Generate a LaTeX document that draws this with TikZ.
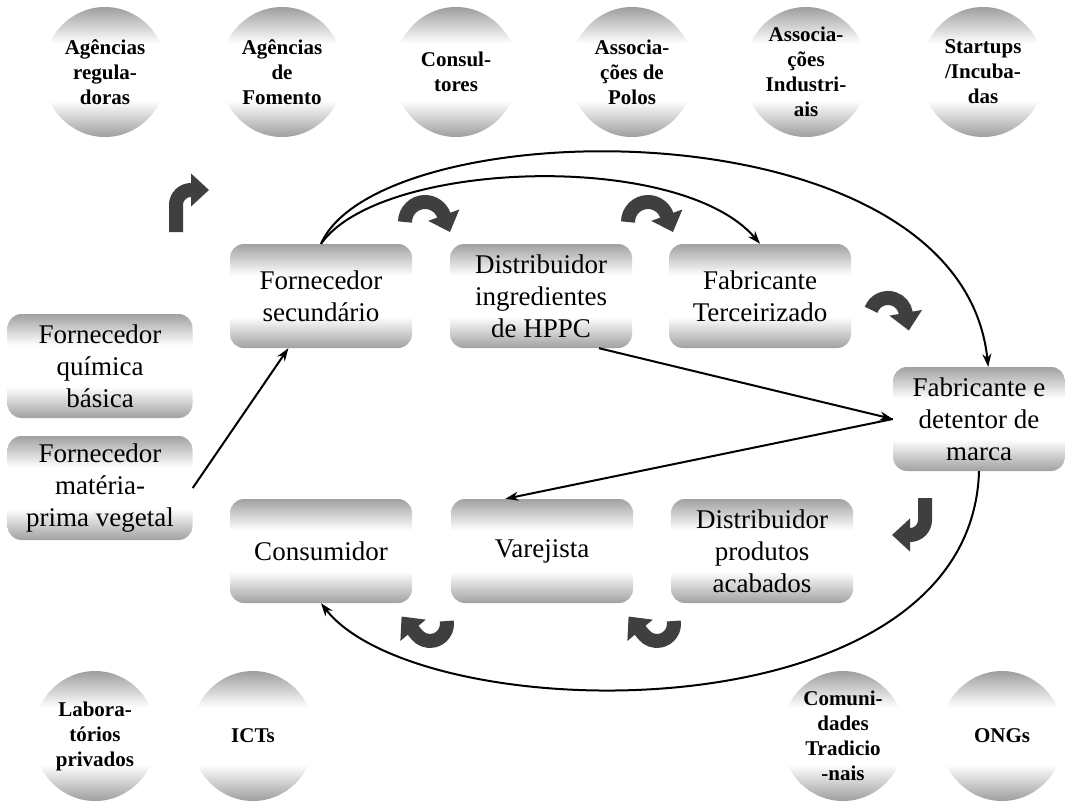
\documentclass[tikz,border=0pt]{standalone}
\usepackage{fontspec}
\setmainfont{Liberation Serif}
\usetikzlibrary{arrows.meta,shapes.geometric}

\definecolor{boxgray}{gray}{0.63}
\definecolor{ballgray}{gray}{0.62}
\definecolor{turngray}{HTML}{3F3F3F}

% grey at top and bottom, white band across the middle
\pgfdeclareverticalshading{boxshade}{100bp}{color(0bp)=(boxgray); color(25bp)=(boxgray); color(40bp)=(white); color(60bp)=(white); color(75bp)=(boxgray); color(100bp)=(boxgray)}
\pgfdeclareverticalshading{ballshade}{100bp}{color(0bp)=(ballgray); color(25bp)=(ballgray); color(39bp)=(white); color(61bp)=(white); color(75bp)=(ballgray); color(100bp)=(ballgray)}

\tikzset{
  box/.style={rectangle, rounded corners=14pt, minimum width=182pt, minimum height=104pt,
    shade, shading=boxshade, align=center, inner sep=2pt,
    font=\fontsize{27}{32}\selectfont},
  ball/.style={ellipse, minimum width=124pt, minimum height=130pt, inner sep=-12pt,
    shade, shading=ballshade, align=center,
    font=\fontsize{21}{25}\selectfont\bfseries},
  conn/.style={line width=2pt, -{Stealth[length=13pt,width=9pt]}},
  turn/.style={line width=14pt, draw=turngray, -{Triangle[length=18pt,width=32pt]}},
}

\begin{document}
\begin{tikzpicture}[x=1pt,y=1pt]
\fill[white] (0,0) rectangle (1065,-801);
\useasboundingbox (0,0) rectangle (1065,-801);

% actors around the chain
\node[ball] (ar)  at (105,-72)  {Agências\\regula-\\doras};
\node[ball] (af)  at (282,-72)  {Agências\\de\\Fomento};
\node[ball] (cst) at (456,-72)  {Consul-\\tores};
\node[ball] (ap)  at (632,-72)  {Associa-\\ções de\\Polos};
\node[ball] (ai)  at (806,-72)  {Associa-\\ções\\Industri-\\ais};
\node[ball] (st)  at (983,-72)  {Startups\\/Incuba-\\das};
\node[ball] (lab) at (95,-736)  {Labora-\\tórios\\privados};
\node[ball] (ict) at (253,-736) {ICTs};
\node[ball] (ct)  at (843,-736) {Comuni-\\dades\\Tradicio\\-nais};
\node[ball] (ong) at (1002,-736) {ONGs};

% value chain
\node[box] (fqb)  at (100,-366) [minimum width=185pt] {Fornecedor\\química\\básica};
\node[box] (fmp)  at (100,-488) [minimum width=185pt] {Fornecedor\\matéria-\\prima vegetal};
\node[box] (fsec) at (321,-296) {Fornecedor\\secundário};
\node[box] (dih)  at (541,-296) {Distribuidor\\ingredientes\\de HPPC};
\node[box] (fter) at (760,-296) {Fabricante\\Terceirizado};
\node[box] (fdm)  at (979,-419) [minimum width=172pt] {Fabricante e\\detentor de\\marca};
\node[box] (cons) at (321,-551) {Consumidor};
\node[box] (var)  at (542,-551) {Varejista};
\node[box] (dpa)  at (762,-551) {Distribuidor\\produtos\\acabados};

% thin connectors
\draw[conn] (fmp.east) -- (fsec.238);
\draw[conn] (dih.-42) -- (fdm.west);
\draw[conn] (fdm.west) -- (var.125);
\draw[conn] (fsec.north) .. controls +(59,84) and +(-80,94) .. (fter.north);
\draw[conn] (fsec.north) .. controls +(59,134) and +(-28,267) .. (fdm.80);
\draw[conn] (fdm.south) .. controls +(-8,-269) and +(99,-127) .. (cons.south);

% thick turning arrows
\draw[turn] (176,-232) -- (176,-205) arc[start angle=180, end angle=90, radius=15] -- ++(18,0);
\draw[turn] (405,-222) arc[start angle=180, end angle=20, radius=20] -- ++(6.2,-16.9);
\draw[turn] (628,-222) arc[start angle=180, end angle=20, radius=20] -- ++(6.2,-16.9);
\draw[turn] (871.1,-309.8) arc[start angle=160, end angle=10, radius=18] -- ++(3.1,-17.7);
\draw[turn] (925,-498) -- (925,-520) arc[start angle=0, end angle=-90, radius=15] -- ++(-18,0);
\draw[turn] (673.7,-621.0) arc[start angle=10, end angle=-140, radius=17] -- ++(-15.4,18.4);
\draw[turn] (446.7,-621.0) arc[start angle=10, end angle=-140, radius=17] -- ++(-15.4,18.4);
\end{tikzpicture}
\end{document}
